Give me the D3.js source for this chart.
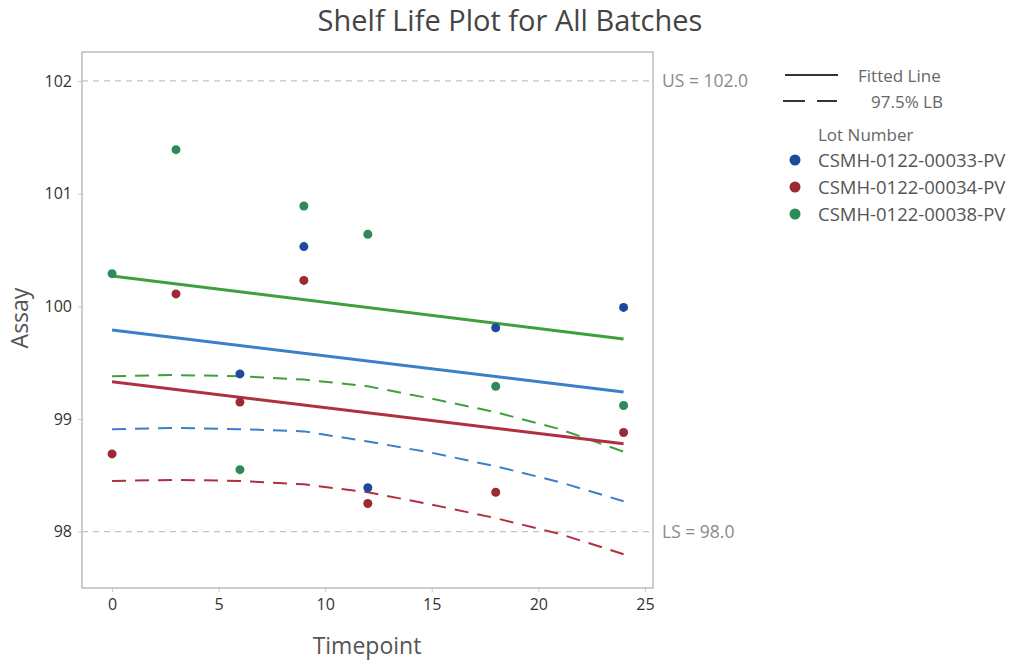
<!DOCTYPE html>
<html>
<head>
<meta charset="utf-8">
<script src="https://cdnjs.cloudflare.com/ajax/libs/d3/7.8.5/d3.min.js"></script>
<style>
  body { margin: 0; background: #fff; }
  text { font-family: "Open Sans", "Noto Sans", sans-serif; }
</style>
</head>
<body>
<div id="chart"></div>
<script>
// lots and their colours
var lots = ["CSMH-0122-00033-PV", "CSMH-0122-00034-PV", "CSMH-0122-00038-PV"];
var dotColors = ["#1f4a9b", "#9b2a35", "#2e8a58"];
var lineColors = ["#3b7fc8", "#b0303f", "#3ea03c"];

// observed assay values by timepoint
var times33 = [6, 9, 12, 18, 24];
var assay33 = [99.40, 100.53, 98.39, 99.81, 99.99];
var times34 = [0, 3, 6, 9, 12, 18, 24];
var assay34 = [98.69, 100.11, 99.15, 100.23, 98.25, 98.35, 98.88];
var times38 = [0, 3, 6, 9, 12, 18, 24];
var assay38 = [100.29, 101.39, 98.55, 100.89, 100.64, 99.29, 99.12];

// fitted lines: value at t=0 and at t=24
var fitStart = [99.79, 99.33, 100.27];
var fitEnd = [99.24, 98.78, 99.71];

// 97.5% lower bound curves
var lbTimes = [0, 3, 6, 9, 12, 15, 18, 21, 24];
var lb33 = [98.91, 98.92, 98.91, 98.89, 98.80, 98.70, 98.58, 98.44, 98.27];
var lb34 = [98.45, 98.46, 98.45, 98.42, 98.35, 98.24, 98.12, 97.98, 97.80];
var lb38 = [99.38, 99.39, 99.38, 99.35, 99.29, 99.18, 99.06, 98.91, 98.71];

// spec limits
var specValues = [102, 98];
var specLabels = ["US = 102.0", "LS = 98.0"];

var xTicks = [0, 5, 10, 15, 20, 25];
var yTicks = [98, 99, 100, 101, 102];

var W = 1019, H = 667;
var svg = d3.select("#chart").append("svg").attr("width", W).attr("height", H);

var plotL = 82, plotR = 653, plotT = 52, plotB = 588;
var x = d3.scaleLinear().domain([-1.41, 25.38]).range([plotL, plotR]);
var y = d3.scaleLinear().domain([97.5, 102.257]).range([plotB, plotT]);

// title
svg.append("text")
  .attr("x", 510).attr("y", 31)
  .attr("text-anchor", "middle")
  .style("font-size", "29px")
  .style("fill", "#444")
  .text("Shelf Life Plot for All Batches");

// spec lines
specValues.forEach(function (v, i) {
  svg.append("line")
    .attr("x1", plotL).attr("x2", plotR)
    .attr("y1", y(v)).attr("y2", y(v))
    .style("stroke", "#c4c4c4")
    .style("stroke-width", 1.2)
    .style("stroke-dasharray", "6,5");
  svg.append("text")
    .attr("x", 662).attr("y", y(v) + 6)
    .style("font-size", "17.5px")
    .style("fill", "#8a8a8a")
    .text(specLabels[i]);
});

// axes
var xAxis = svg.append("g")
  .attr("transform", "translate(0," + plotB + ")")
  .call(d3.axisBottom(x).tickValues(xTicks).tickSize(4).tickPadding(7));
var yAxis = svg.append("g")
  .attr("transform", "translate(" + plotL + ",0)")
  .call(d3.axisLeft(y).tickValues(yTicks).tickFormat(d3.format("d")).tickSize(4).tickPadding(6));
[xAxis, yAxis].forEach(function (g) {
  g.select(".domain").remove();
  g.selectAll(".tick line").style("stroke", "#c8c8c8");
  g.selectAll(".tick text")
    .style("font-size", "16px")
    .style("fill", "#333")
    .style("font-family", "'Open Sans', sans-serif");
});

// frame
svg.append("rect")
  .attr("x", plotL).attr("y", plotT)
  .attr("width", plotR - plotL).attr("height", plotB - plotT)
  .style("fill", "none")
  .style("stroke", "#bdbdbd")
  .style("stroke-width", 1.5);

// axis titles
svg.append("text")
  .attr("transform", "translate(28," + 318 + ") rotate(-90)")
  .attr("text-anchor", "middle")
  .style("font-size", "23px")
  .style("fill", "#555")
  .text("Assay");
svg.append("text")
  .attr("x", 367).attr("y", 654)
  .attr("text-anchor", "middle")
  .style("font-size", "23px")
  .style("fill", "#555")
  .text("Timepoint");

var line = d3.line()
  .x(function (d) { return x(d[0]); })
  .y(function (d) { return y(d[1]); });

// lower bound curves
var lbSets = [lb33, lb34, lb38];
lbSets.forEach(function (lb, i) {
  svg.append("path")
    .datum(lbTimes.map(function (t, j) { return [t, lb[j]]; }))
    .attr("d", line)
    .style("fill", "none")
    .style("stroke", lineColors[i])
    .style("stroke-width", 2)
    .style("stroke-dasharray", "14,9");
});

// fitted lines
fitStart.forEach(function (v, i) {
  svg.append("path")
    .datum([[0, v], [24, fitEnd[i]]])
    .attr("d", line)
    .style("fill", "none")
    .style("stroke", lineColors[i])
    .style("stroke-width", 3);
});

// observed points
var pointSets = [[times33, assay33], [times34, assay34], [times38, assay38]];
pointSets.forEach(function (ps, i) {
  svg.selectAll(".pt" + i)
    .data(ps[0].map(function (t, j) { return [t, ps[1][j]]; }))
    .enter()
    .append("circle")
    .attr("cx", function (d) { return x(d[0]); })
    .attr("cy", function (d) { return y(d[1]); })
    .attr("r", 4.5)
    .style("fill", dotColors[i]);
});

// legend
var lg = svg.append("g");
lg.append("line")
  .attr("x1", 785).attr("x2", 838).attr("y1", 75).attr("y2", 75)
  .style("stroke", "#333").style("stroke-width", 2);
lg.append("text")
  .attr("x", 858).attr("y", 82)
  .style("font-size", "17px").style("fill", "#666")
  .text("Fitted Line");
lg.append("line")
  .attr("x1", 783).attr("x2", 837).attr("y1", 101).attr("y2", 101)
  .style("stroke", "#333").style("stroke-width", 2)
  .style("stroke-dasharray", "22,12");
lg.append("text")
  .attr("x", 871).attr("y", 108)
  .style("font-size", "17px").style("fill", "#666")
  .text("97.5% LB");
lg.append("text")
  .attr("x", 818).attr("y", 141)
  .style("font-size", "17px").style("fill", "#666")
  .text("Lot Number");
lots.forEach(function (name, i) {
  lg.append("circle")
    .attr("cx", 795).attr("cy", 160 + i * 27)
    .attr("r", 5.5)
    .style("fill", dotColors[i]);
  lg.append("text")
    .attr("x", 818).attr("y", 167 + i * 27)
    .style("font-size", "18.5px").style("fill", "#555")
    .text(name);
});
</script>
</body>
</html>
